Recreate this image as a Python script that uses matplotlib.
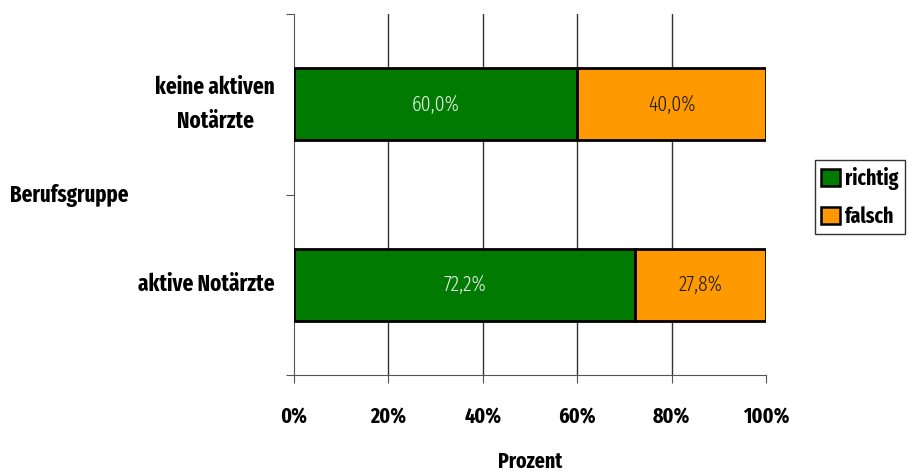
import matplotlib
matplotlib.use("Agg")
import matplotlib.pyplot as plt
from matplotlib import font_manager
from matplotlib.patches import Patch

names = {f.name for f in font_manager.fontManager.ttflist}
candidates = ["Fira Sans Extra Condensed", "Fira Sans Condensed", "PT Sans Narrow", "Roboto Condensed",
              "Archivo Narrow", "Liberation Sans Narrow", "DejaVu Sans"]
fam = next(c for c in candidates if c in names or c == "DejaVu Sans")
plt.rcParams['font.family'] = [fam, 'DejaVu Sans']

categories = ["aktive Notärzte", "keine aktiven\nNotärzte"]
richtig = [72.2, 60.0]
falsch = [27.8, 40.0]
xticks = [0, 20, 40, 60, 80, 100]
xticklabels = ["0%", "20%", "40%", "60%", "80%", "100%"]

green = "#007A00"
orange = "#FF9900"
FS = 15.5

fig = plt.figure(figsize=(9.08, 4.76), dpi=100)
ax = fig.add_axes([294/908, 1-375/476, (766-294)/908, (375-14)/476])

y = list(range(len(categories)))
h = 0.4
ax.barh(y, richtig, height=h, color=green, edgecolor="black", linewidth=2, zorder=3)
ax.barh(y, falsch, left=richtig, height=h, color=orange, edgecolor="black", linewidth=2, zorder=3)

for i in y:
    ax.text(richtig[i]/2, i, f"{richtig[i]:.1f}%".replace(".", ","), ha="center", va="center",
            color="#E6F3E6", fontsize=FS, fontweight=300, zorder=4)
    ax.text(richtig[i] + falsch[i]/2, i, f"{falsch[i]:.1f}%".replace(".", ","), ha="center", va="center",
            color="#1a1a1a", fontsize=FS, fontweight=300, zorder=4)

ax.set_xlim(0, 100)
ax.set_ylim(-0.5, 1.5)
for gx in xticks[1:-1]:
    ax.axvline(gx, color="#333333", lw=1, zorder=1)

ax.set_xticks(xticks)
ax.set_xticklabels(xticklabels, fontsize=FS, fontweight="bold")
ax.set_yticks([-0.5, 0.5, 1.5], minor=False)
ax.set_yticklabels([])
ax.tick_params(axis="y", direction="out", length=6, color="#555555")
ax.tick_params(axis="x", direction="out", length=6, color="#555555", pad=17)
for i, c in enumerate(categories):
    ax.text(-0.04, i, c, transform=ax.get_yaxis_transform(), ha="right", va="center",
            fontsize=16.5, fontweight="bold", multialignment="center", linespacing=1.65)

for s in ["top", "right"]:
    ax.spines[s].set_visible(False)
ax.spines["left"].set_color("#555555")
ax.spines["bottom"].set_color("#555555")

fig.text(530/908, 1-468/476, "Prozent", ha="center", va="baseline", fontsize=FS, fontweight="bold")
fig.text(10/908, 1-202/476, "Berufsgruppe", ha="left", va="baseline", fontsize=16.3, fontweight="bold")

handles = [Patch(facecolor=green, edgecolor="black", lw=1.8, label="richtig"),
           Patch(facecolor=orange, edgecolor="black", lw=1.8, label="falsch")]
leg = fig.legend(handles=handles, loc="center left", bbox_to_anchor=(815/908, 1-197/476),
                 borderaxespad=0, frameon=True, fancybox=False, edgecolor="black",
                 prop={"weight": "bold", "size": FS},
                 handlelength=0.85, handleheight=0.85, handletextpad=0.25, borderpad=0.3,
                 labelspacing=0.75)
leg.get_frame().set_linewidth(1)

fig.savefig("out.png", dpi=100)
